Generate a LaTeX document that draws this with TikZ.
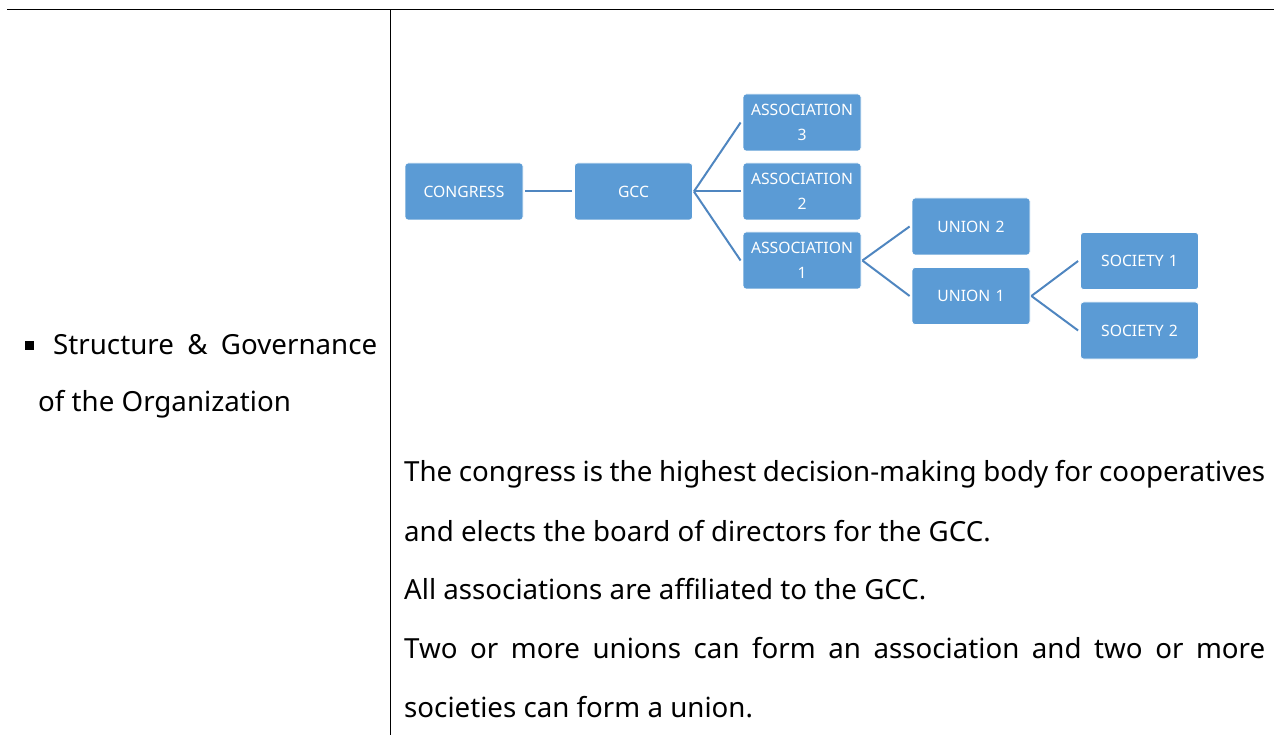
\documentclass[tikz,border=0pt]{standalone}
\usepackage{fontspec}
\setmainfont{Noto Sans}
\definecolor{boxblue}{HTML}{5B9BD5}
\definecolor{linkblue}{HTML}{4F86C0}
\begin{document}
\begin{tikzpicture}[x=1pt,y=-1pt,
  orgbox/.style={draw=white,line width=0.8pt,fill=boxblue,rounded corners=3pt,minimum width=118pt,minimum height=57pt,inner sep=1pt,text=white,font=\fontsize{15.7}{25}\selectfont,align=center,text width=114pt},
  link/.style={draw=linkblue,line width=2pt},
  body/.style={anchor=west,inner sep=0pt,font=\fontsize{27.7}{30}\selectfont}]
\useasboundingbox (0,0) rectangle (1274,735);
% table rules
\draw[line width=1pt] (7,10) -- (1274,10);
\draw[line width=1pt] (390,10) -- (390,735);
% boxes
\node[orgbox] (congress) at (464,191.5) {CONGRESS};
\node[orgbox] (gcc) at (633.5,191.5) {GCC};
\node[orgbox] (a3) at (802,122.5) {ASSOCIATION\\3};
\node[orgbox] (a2) at (802,191.5) {ASSOCIATION\\2};
\node[orgbox] (a1) at (802,260.5) {ASSOCIATION\\1};
\node[orgbox] (u2) at (971,226.5) {UNION 2};
\node[orgbox] (u1) at (971,296) {UNION 1};
\node[orgbox] (s1) at (1139.5,261) {SOCIETY 1};
\node[orgbox] (s2) at (1139.5,330.5) {SOCIETY 2};
% connectors
\draw[link] ([xshift=2pt]congress.east) -- ([xshift=-2pt]gcc.east -| gcc.west);
\draw[link] ([xshift=1pt]gcc.east) -- ([xshift=-2pt]a3.west);
\draw[link] ([xshift=1pt]gcc.east) -- ([xshift=-2pt]a2.west);
\draw[link] ([xshift=1pt]gcc.east) -- ([xshift=-2pt]a1.west);
\draw[link] ([xshift=1pt]a1.east) -- ([xshift=-2pt]u2.west);
\draw[link] ([xshift=1pt]a1.east) -- ([xshift=-2pt]u1.west);
\draw[link] ([xshift=1pt]u1.east) -- ([xshift=-2pt]s1.west);
\draw[link] ([xshift=1pt]u1.east) -- ([xshift=-2pt]s2.west);
% left cell
\node[fill=black,minimum size=9pt,inner sep=0pt] (bullet) at (29,345) {};
\node[body] (t1) at (53,345) {\makebox[324pt][s]{Structure \& Governance}};
\node[body] (t2) at (38,404) {of the Organization};
% right cell text
\node[body] (p1) at (404,474) {\makebox[861pt][s]{The congress is the highest decision-making body for cooperatives}};
\node[body] (p2) at (404,531) {and elects the board of directors for the GCC.};
\node[body] (p3) at (404,589) {All associations are affiliated to the GCC.};
\node[body] (p4) at (404,648) {\makebox[861pt][s]{Two or more unions can form an association and two or more}};
\node[body] (p5) at (404,707) {societies can form a union.};
\end{tikzpicture}
\end{document}
